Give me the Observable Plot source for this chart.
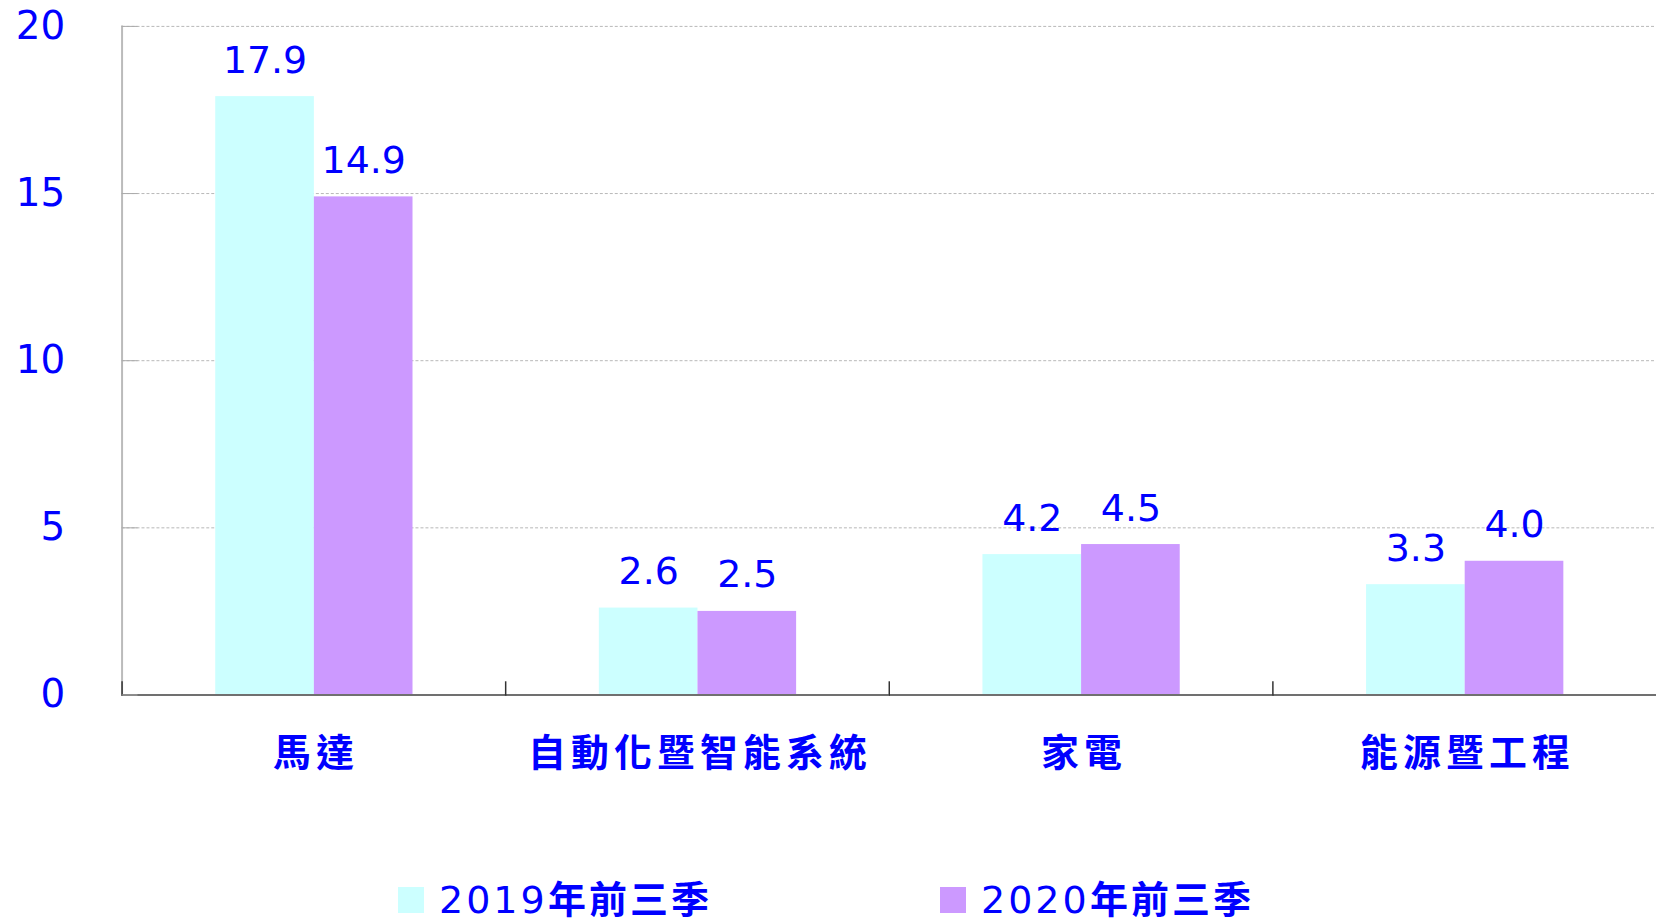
<!DOCTYPE html>
<html><head><meta charset="utf-8">
<script src="https://cdn.jsdelivr.net/npm/d3@7"></script>
<script src="https://cdn.jsdelivr.net/npm/@observablehq/plot@0.6"></script>
<style>
@font-face{font-family:"CJKBold";src:local("Noto Sans CJK TC Bold"),local("NotoSansCJKtc-Bold"),local("Noto Sans CJK SC Bold"),local("NotoSansCJKsc-Bold");unicode-range:U+2E80-9FFF,U+F900-FAFF,U+FF00-FFEF;}
body{margin:0;background:#fff;}
#wrap{position:relative;width:1657px;height:918px;overflow:hidden;background:#fff;}
#chart{position:absolute;left:0;top:0;}
#legend{position:absolute;left:398px;top:883px;}
#legend span{width:542px !important;margin-right:0 !important;letter-spacing:3px;line-height:34px;height:34px;}
#legend svg{margin-right:15px !important;}
g[aria-label="fx-axis tick label"] text{letter-spacing:5px;}
</style></head><body><div id="wrap"><div id="chart"></div><div id="legend"></div></div>
<script>
const categories = ["馬達", "自動化暨智能系統", "家電", "能源暨工程"];
const seriesNames = ["2019年前三季", "2020年前三季"];
const values2019 = [17.9, 2.6, 4.2, 3.3];
const values2020 = [14.9, 2.5, 4.5, 4.0];
const colors = ["#CCFFFF", "#CC99FF"];
const yTicks = [0, 5, 10, 15, 20];

const data = categories.flatMap((c, i) => [
  {category: c, series: seriesNames[0], value: values2019[i]},
  {category: c, series: seriesNames[1], value: values2020[i]}
]);
const font = '"DejaVu Sans", "CJKBold", "Noto Sans CJK TC", sans-serif';
const blue = "#0000ff";

const chart = Plot.plot({
  width: 1663, height: 800,
  marginTop: 26, marginBottom: 103, marginLeft: 120, marginRight: 0,
  style: {fontFamily: font, background: "white", overflow: "visible"},
  fx: {domain: categories, padding: 0, axis: null, label: null},
  x: {domain: seriesNames, paddingInner: 0, paddingOuter: 0.93, axis: null, label: null},
  y: {domain: [0, 20], axis: null, label: null},
  color: {domain: seriesNames, range: colors},
  marks: [
    Plot.gridY(yTicks.filter(d => d > 0), {stroke: "#b8b8b8", strokeOpacity: 1, strokeDasharray: "3,2"}),
    Plot.barY(data, {fx: "category", x: "series", y: "value", fill: "series"}),
    Plot.frame({anchor: "left", facetAnchor: "left", stroke: "#bbbbbb", strokeWidth: 2}),
    Plot.ruleY([0], {stroke: "#707070", strokeWidth: 2}),
    Plot.frame({anchor: "left", insetTop: 658, stroke: "#333", strokeWidth: 1.5}),
    Plot.axisY(yTicks, {tickSize: -16, tickPadding: 73, stroke: "#aaaaaa", fill: blue, fontSize: 39, label: null}),
    Plot.axisFx({anchor: "bottom", tickSize: 0, tickPadding: 44, dx: 2.5, fill: blue, fontSize: 38, label: null}),
    Plot.text(data, {fx: "category", x: "series", y: "value", text: d => d.value.toFixed(1),
      dy: -24, lineAnchor: "bottom", fontSize: 38, fill: blue})
  ]
});
document.getElementById("chart").append(chart);

const leg = Plot.legend({
  color: {type: "ordinal", domain: seriesNames, range: colors},
  swatchSize: 26,
  style: {fontFamily: font, fontSize: "38px", color: blue}
});
document.getElementById("legend").append(leg);
</script></body></html>
